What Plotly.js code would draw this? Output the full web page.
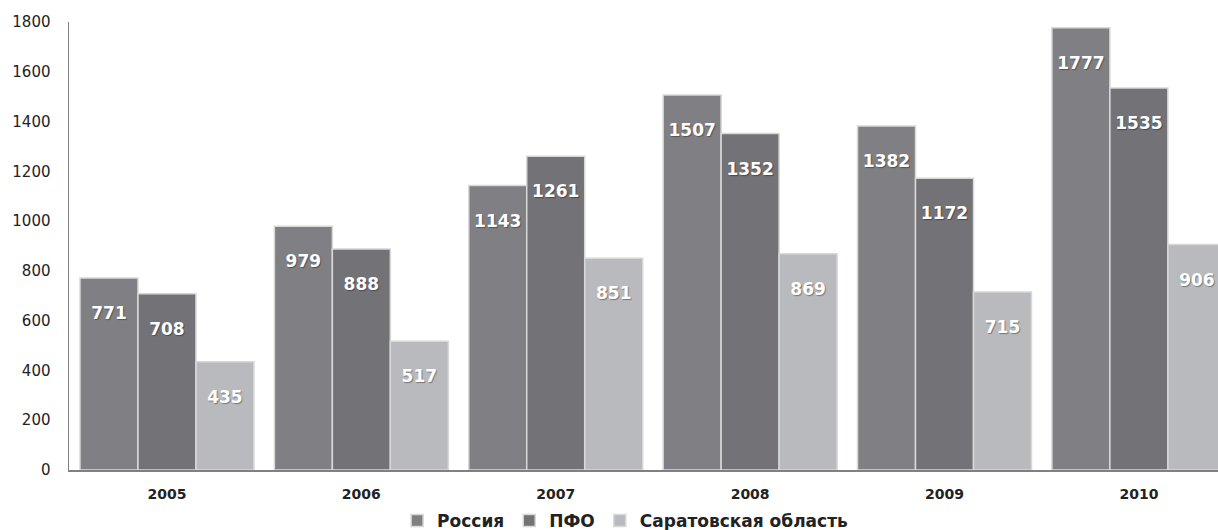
<!DOCTYPE html>
<html>
<head>
<meta charset="utf-8">
<script src="https://cdn.plot.ly/plotly-3.0.1.min.js"></script>
<style>html,body{margin:0;padding:0;background:#fff;overflow:hidden}#chart{width:1218px;height:530px}</style>
</head>
<body>
<div id="chart"></div>
<script>
const years = ['2005', '2006', '2007', '2008', '2009', '2010'];
const russia = [771, 979, 1143, 1507, 1382, 1777];
const pfo = [708, 888, 1261, 1352, 1172, 1535];
const saratov = [435, 517, 851, 869, 715, 906];
const seriesNames = ['Россия', 'ПФО', 'Саратовская область'];
const yTicks = [0, 200, 400, 600, 800, 1000, 1200, 1400, 1600, 1800];

const colors = ['#808084', '#727277', '#b9babd'];
const font = 'DejaVu Sans, Verdana, sans-serif';

function mk(name, vals, color) {
  return {
    type: 'bar', name: name, x: years, y: vals,
    marker: {color: color, line: {color: '#d8d8d8', width: 1.5}},
    texttemplate: '<span style="fill:rgba(0,0,0,0);text-shadow:none">0</span><br>%{y}',
    textposition: 'inside',
    insidetextanchor: 'end',
    textangle: 0,
    insidetextfont: {family: font, size: 17, color: '#ffffff', weight: 'bold', shadow: '1px 1px 1px rgba(0,0,0,0.35)'},
    hoverinfo: 'skip'
  };
}

const data = [
  mk(seriesNames[0], russia, colors[0]),
  mk(seriesNames[1], pfo, colors[1]),
  mk(seriesNames[2], saratov, colors[2])
];

const layout = {
  width: 1218, height: 530,
  margin: {l: 69, r: 0, t: 22, b: 60},
  paper_bgcolor: '#ffffff', plot_bgcolor: '#ffffff',
  barmode: 'group', bargap: 0.105, bargroupgap: 0,
  showlegend: true,
  legend: {
    orientation: 'h', x: 0.484, xanchor: 'center',
    yref: 'container', y: 0.017, yanchor: 'middle',
    font: {family: font, size: 17, color: '#222', weight: 'bold'},
    itemwidth: 30, tracegroupgap: 0
  },
  xaxis: {
    type: 'category', range: [-0.504, 5.407],
    showline: true, linecolor: '#808080', linewidth: 1.5,
    ticks: '', showgrid: false, zeroline: false,
    tickfont: {family: font, size: 14, color: '#222', weight: 'bold'},
    ticklabelstandoff: 11
  },
  yaxis: {
    range: [0, 1800], tickvals: yTicks, ticktext: yTicks.map(String),
    showline: true, linecolor: '#808080', linewidth: 1.5,
    ticks: '', showgrid: false, zeroline: false,
    tickfont: {family: font, size: 15, color: '#222'},
    ticklabelstandoff: 14
  }
};

Plotly.newPlot('chart', data, layout, {displayModeBar: false, staticPlot: true});
</script>
</body>
</html>
